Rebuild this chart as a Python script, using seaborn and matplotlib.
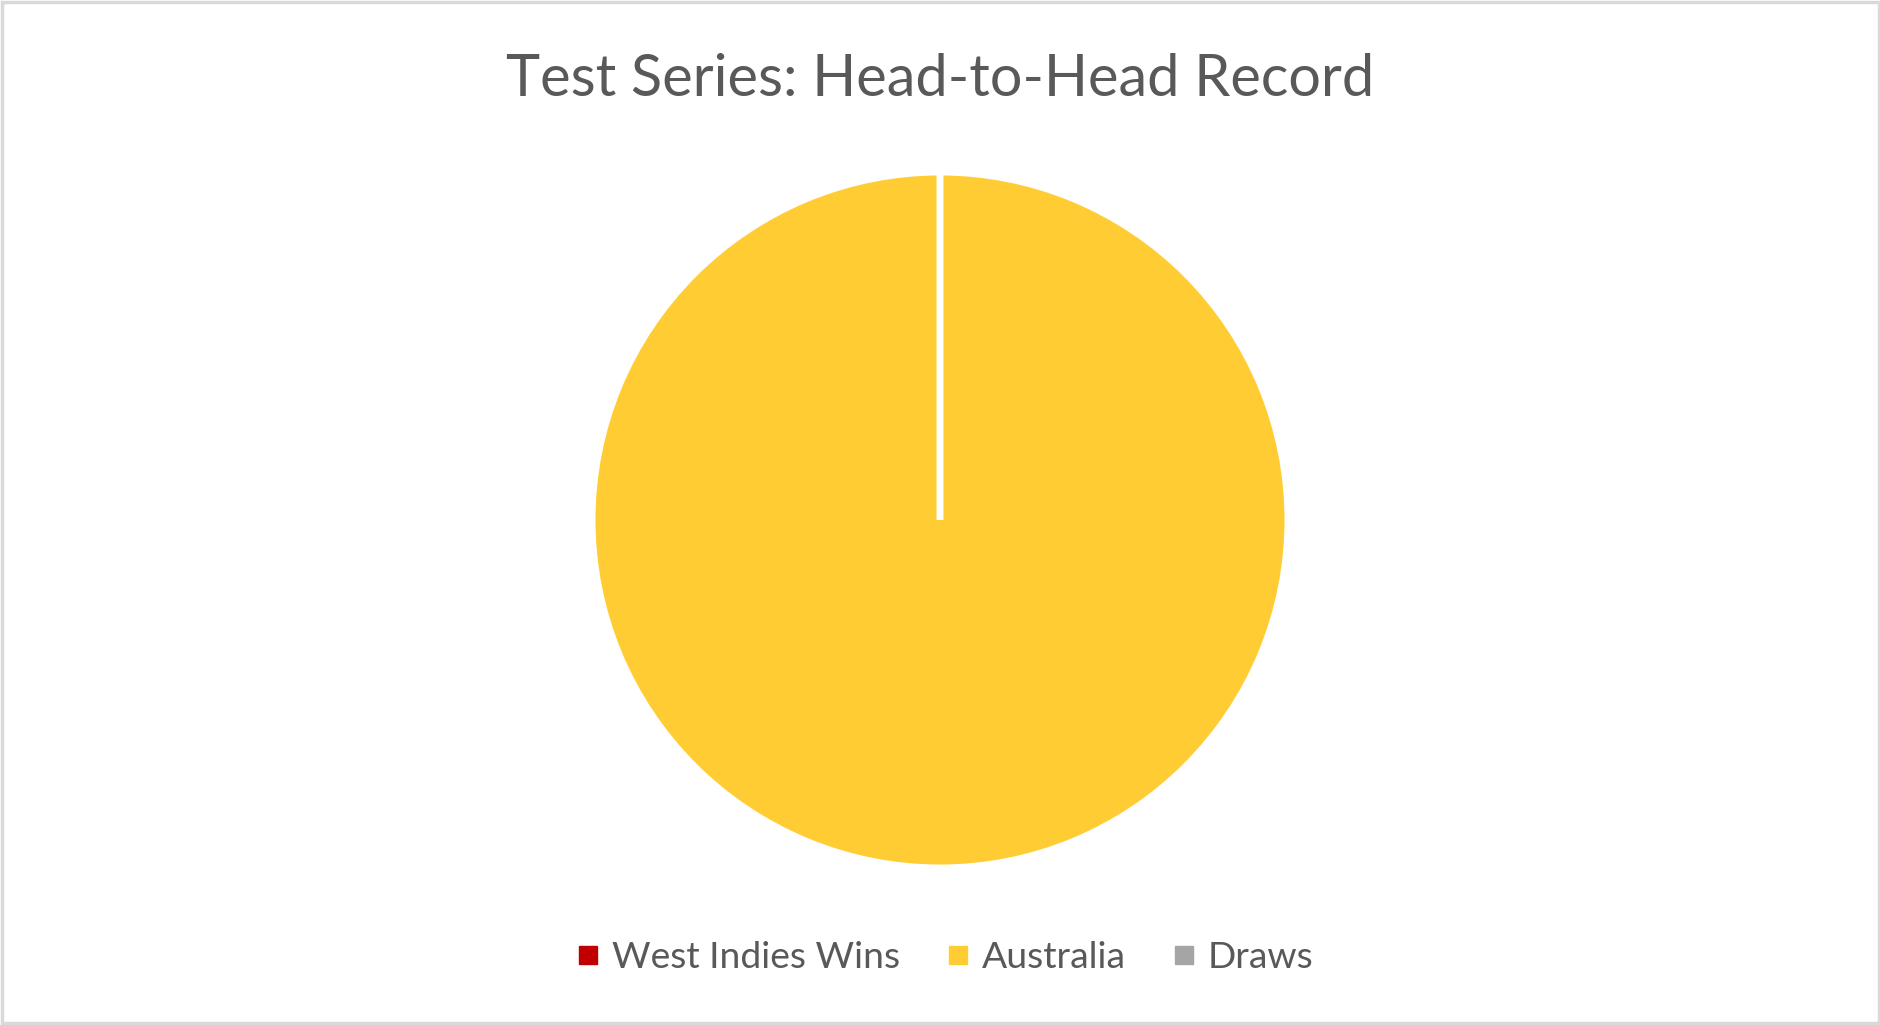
import matplotlib
matplotlib.use("Agg")
import matplotlib.pyplot as plt
import seaborn as sns
from matplotlib.lines import Line2D
from matplotlib.patches import Rectangle

# Data
labels = ["West Indies Wins", "Australia", "Draws"]
series_won = [0, 1, 0]
colors = ["#C00000", "#FFCD33", "#A5A5A5"]

# Style
sns.set_style("white")
plt.rcParams["font.family"] = ["Lato", "DejaVu Sans"]
text_color = "#595959"

fig = plt.figure(figsize=(18.81, 10.25), dpi=100)

# pie axes, centred where the chart sits
r_px = 348
cx, cy = 940, 520
ax = fig.add_axes([(cx - r_px) / 1881, (1025 - cy - r_px) / 1025,
                   2 * r_px / 1881, 2 * r_px / 1025])

ax.pie(
    series_won,
    colors=colors,
    startangle=90,
    counterclock=False,
    wedgeprops=dict(edgecolor="white", linewidth=5),
)
ax.set_xlim(-1, 1)
ax.set_ylim(-1, 1)
ax.set_aspect("equal")
ax.axis("off")

fig.suptitle("Test Series: Head-to-Head Record", y=1 - 80 / 1025, va="center",
             fontsize=41.5, color=text_color)

handles = [Line2D([], [], marker="s", linestyle="", markersize=12.5,
                  markerfacecolor=c, markeredgecolor=c) for c in colors]
fig.legend(handles, labels, loc="center", bbox_to_anchor=(0.503, 1 - 958 / 1025),
           ncol=3, frameon=False, fontsize=26.8, labelcolor=text_color,
           handlelength=0.5, handletextpad=0.4, columnspacing=1.3)

# light grey frame round the chart
fig.patches.append(Rectangle((0.0008, 0.0015), 0.9984, 0.997, transform=fig.transFigure,
                             fill=False, edgecolor="#D9D9D9", linewidth=2.5))

fig.savefig("out.png", dpi=100)
